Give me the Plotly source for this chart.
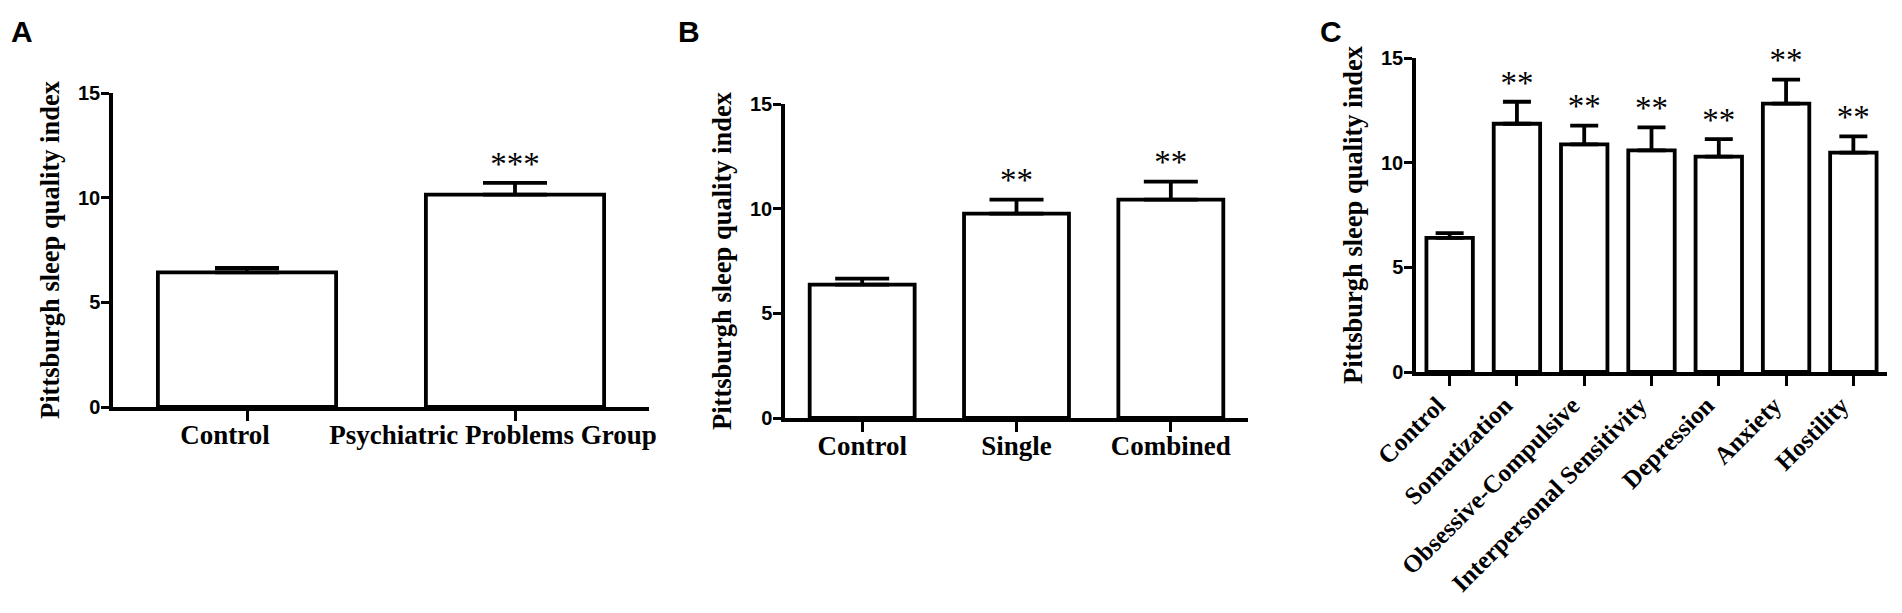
import plotly.graph_objects as go

# Browser-Fenster 1902x613, der body hat 8px Rand -> Figur etwas kleiner
VIEW_W, VIEW_H = 1902, 613
OFF = 8
W, H = VIEW_W - 2 * OFF, VIEW_H - 2 * OFF

# ---------------------------------------------------------------------------
# Werte (Mittelwert und Fehlerbalken nach oben)
# ---------------------------------------------------------------------------
a_groups = ["Control", "Psychiatric Problems Group"]
a_mean = [6.43, 10.15]
a_sem = [0.21, 0.56]
a_stars = ["", "***"]

b_groups = ["Control", "Single", "Combined"]
b_mean = [6.37, 9.76, 10.43]
b_sem = [0.29, 0.67, 0.86]
b_stars = ["", "**", "**"]

c_groups = ["Control", "Somatization", "Obsessive-Compulsive", "Interpersonal Sensitivity",
            "Depression", "Anxiety", "Hostility"]
c_mean = [6.41, 11.86, 10.87, 10.59, 10.29, 12.82, 10.48]
c_sem = [0.22, 1.05, 0.90, 1.10, 0.83, 1.15, 0.78]
c_stars = ["", "**", "**", "**", "**", "**", "**"]

y_ticks = [0, 5, 10, 15]
y_title = "Pittsburgh sleep quality index"
panel_letters = ["A", "B", "C"]


def px_x(v):
    return (v - OFF) / W


def px_y(v):
    return 1 - (v - OFF) / H


# Pixel-Boxen der drei Plotflächen (links, rechts, oben, unten) im Fenster
panels = [
    dict(groups=a_groups, mean=a_mean, sem=a_sem, stars=a_stars,
         box=(113, 649, 93, 407), bar_w=0.665, cap=32, angle=0, tick_size=27,
         lab_shift=-22, lab_standoff=-9, letter=(22, 31)),
    dict(groups=b_groups, mean=b_mean, sem=b_sem, stars=b_stars,
         box=(785, 1248, 104, 418), bar_w=0.68, cap=27, angle=0, tick_size=27,
         lab_shift=0, lab_standoff=-9, letter=(689, 31)),
    dict(groups=c_groups, mean=c_mean, sem=c_sem, stars=c_stars,
         box=(1416, 1887, 58, 372), bar_w=0.69, cap=14, angle=-45, tick_size=25,
         lab_shift=-12, lab_standoff=-5, letter=(1331, 31)),
]

fig = go.Figure()
layout = dict(
    width=W, height=H,
    margin=dict(l=0, r=0, t=0, b=0),
    paper_bgcolor="white", plot_bgcolor="white",
    showlegend=False,
    annotations=[],
)

for i, p in enumerate(panels, start=1):
    sfx = "" if i == 1 else str(i)
    n = len(p["groups"])
    fig.add_trace(go.Bar(
        x=p["groups"], y=p["mean"], width=p["bar_w"],
        marker=dict(color="white", line=dict(color="black", width=3.8)),
        error_y=dict(type="data", array=p["sem"], arrayminus=[0] * n, symmetric=False,
                     color="black", thickness=3.8, width=p["cap"]),
        xaxis="x" + sfx, yaxis="y" + sfx,
    ))
    fig.add_trace(go.Scatter(
        x=p["groups"], y=[m + s for m, s in zip(p["mean"], p["sem"])],
        mode="text", text=p["stars"], textposition="top center",
        textfont=dict(family="Liberation Serif", size=33, color="black"),
        cliponaxis=False,
        xaxis="x" + sfx, yaxis="y" + sfx,
    ))

    left, right, top, bottom = p["box"]
    layout["xaxis" + sfx] = dict(
        domain=[px_x(left), px_x(right)], anchor="y" + sfx,
        range=[-0.5, n - 0.5],
        showline=True, linecolor="black", linewidth=3.5,
        ticks="outside", ticklen=10, tickwidth=3, tickcolor="black",
        tickangle=p["angle"],
        ticklabelshift=p["lab_shift"], ticklabelstandoff=p["lab_standoff"],
        tickfont=dict(family="Liberation Serif", size=p["tick_size"], color="black", weight="bold"),
        showgrid=False, zeroline=False, automargin=False, fixedrange=True,
    )
    layout["yaxis" + sfx] = dict(
        domain=[px_y(bottom), px_y(top)], anchor="x" + sfx,
        range=[0, 15], tickvals=y_ticks,
        showline=True, linecolor="black", linewidth=3.5,
        ticks="outside", ticklen=8, tickwidth=3, tickcolor="black",
        ticklabelstandoff=-3,
        tickfont=dict(family="Liberation Sans", size=20, color="black", weight="bold"),
        title=dict(text=y_title, standoff=12,
                   font=dict(family="Liberation Serif", size=26.5, color="black", weight="bold")),
        showgrid=False, zeroline=False, automargin=False, fixedrange=True,
    )
    lx, ly = p["letter"]
    layout["annotations"].append(dict(
        text=panel_letters[i - 1], xref="paper", yref="paper",
        x=px_x(lx), y=px_y(ly), xanchor="center", yanchor="middle", showarrow=False,
        font=dict(family="Liberation Sans", size=30, color="black", weight="bold"),
    ))

fig.update_layout(**layout)
fig.write_html("out.html")
